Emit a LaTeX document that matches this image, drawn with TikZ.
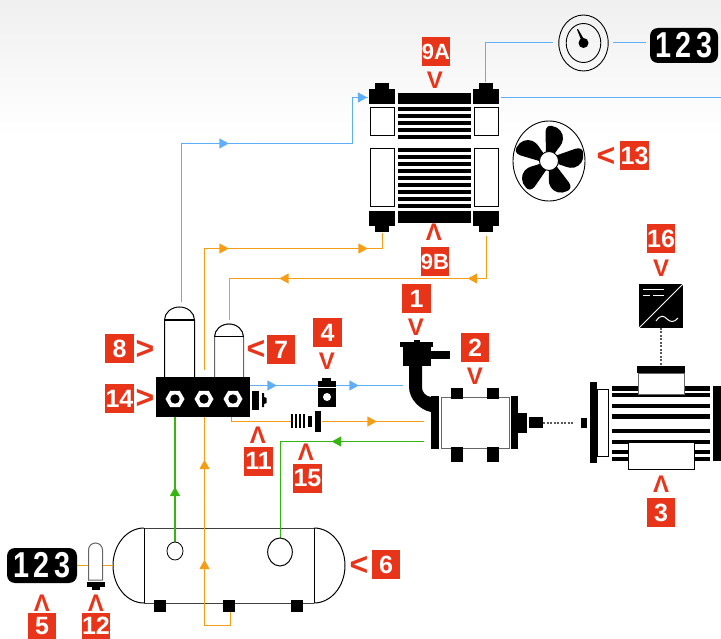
\documentclass[tikz,border=0pt]{standalone}
\usepackage{fontspec}
\setmainfont{Liberation Sans}
\usetikzlibrary{shapes.geometric}
\definecolor{tagred}{HTML}{E8351A}
\definecolor{lblue}{HTML}{5FAEF8}
\definecolor{lorange}{HTML}{F59D14}
\definecolor{lgreen}{HTML}{35B510}
\newcommand{\tri}[4]{\fill[#4,shift={(#1,#2)},rotate=#3] (-4.7,-5.2) -- (4.7,0) -- (-4.7,5.2) -- cycle;}
\newcommand{\digits}{\scalebox{0.8}[1]{1\kern6pt 2\kern6pt 3}}
\tikzset{
  tag/.style={fill=tagred,text=white,font=\bfseries\fontsize{25}{25}\selectfont,minimum width=28.5pt,minimum height=29pt,inner sep=0pt,anchor=center},
  tagwide/.style={tag,font=\bfseries\fontsize{22}{22}\selectfont},
  tagcut/.style={tag,minimum height=26pt},
  chev/.style={text=tagred,font=\bfseries\fontsize{24}{24}\selectfont,inner sep=0pt,anchor=center},
  chevside/.style={chev,font=\bfseries\fontsize{32}{32}\selectfont},
  display/.style={fill=black,text=white,rounded corners=8pt,minimum height=35pt,inner sep=0pt,font=\bfseries\fontsize{36}{36}\selectfont,anchor=center},
  bluel/.style={draw=lblue,line width=1.7pt},
  orangel/.style={draw=lorange,line width=1.7pt},
  greenl/.style={draw=lgreen,line width=1.7pt},
  hollow/.style={draw=black,fill=white,line width=1pt},
  grayhollow/.style={draw=black!60,fill=white,line width=1pt},
  dotl/.style={draw=black!65,line width=1.2pt,dash pattern=on 2pt off 1.5pt},
}
\begin{document}
\begin{tikzpicture}[x=1pt,y=-1pt]
\useasboundingbox (0,0) rectangle (721,639);
\shade[top color=black!6,bottom color=white,draw=none] (0,0) rectangle (721,135);

% ---------- tank (behind its connectors)
\draw[line width=1pt] (144,528) arc[start angle=270,end angle=90,x radius=31,y radius=37.5];
\draw[line width=1pt] (314,528) arc[start angle=-90,end angle=90,x radius=31,y radius=37.5];
\draw[line width=1pt,draw=black!75] (144,528) -- (314,528) (144,603) -- (314,603);
\draw[line width=1pt] (144,528) -- (144,603) (314,528) -- (314,603);

% ---------- end points of connectors
\coordinate (radTLw) at (368,97.5);
\coordinate (radTRn) at (485.5,82);
\coordinate (radTRe) at (501,97.5);
\coordinate (radBLs) at (382.5,233);
\coordinate (radBRs) at (486.5,236);
\coordinate (rightEdge) at (721,97.5);
\coordinate (gaugeW) at (553,42.5);
\coordinate (gaugeE) at (613,42.5);
\coordinate (dispTopW) at (646,42.5);
\coordinate (tube8top) at (181.5,302);
\coordinate (tube7top) at (229.5,320);
\coordinate (manifoldTop) at (204.5,370);
\coordinate (manE) at (250,385.5);
\coordinate (pumpBlue) at (403,385.5);
\coordinate (nut1) at (175,408);
\coordinate (nut2) at (204.5,408);
\coordinate (nut3) at (231.5,408);
\coordinate (valveW) at (291,421.5);
\coordinate (valveE) at (322,421.5);
\coordinate (pumpOrange) at (424,421.5);
\coordinate (pumpGreen) at (424,441.5);
\coordinate (tankSmall) at (175,542);
\coordinate (tankBig) at (280.5,538);
\coordinate (tankPad) at (230.5,612);
\coordinate (disp5E) at (77,565.5);
\coordinate (g12W) at (88,565.5);
\coordinate (g12E) at (103,565.5);
\coordinate (tankW) at (113,565.5);

% ---------- connectors
\draw[bluel] (radTRn) -- (485.5,42.5) -- (gaugeW);
\draw[bluel] (gaugeE) -- (dispTopW);
\draw[bluel] (radTRe) -- (rightEdge);
\draw[bluel] (tube8top) -- (181.5,143.5) -- (352.5,143.5) -- (352.5,97.5) -- (radTLw);
\draw[bluel] (manE) -- (pumpBlue);
\draw[orangel] (radBLs) -- (382.5,248.5) -- (204.5,248.5) -- (manifoldTop);
\draw[orangel] (radBRs) -- (486.5,278.5) -- (229.5,278.5) -- (tube7top);
\draw[orangel] (nut3) -- (231.5,421.5) -- (valveW);
\draw[orangel] (valveE) -- (pumpOrange);
\draw[orangel] (nut2) -- (204.5,625.5) -- (230.5,625.5) -- (tankPad);
\draw[greenl] (nut1) -- (tankSmall);
\draw[greenl] (tankBig) -- (280.5,441.5) -- (pumpGreen);
\draw[orangel] (disp5E) -- (g12W);
\draw[orangel] (g12E) -- (tankW);

\tri{224}{143.5}{0}{lblue}
\tri{362.5}{97.5}{0}{lblue}
\tri{224}{248.5}{0}{lorange}
\tri{363}{248.5}{0}{lorange}
\tri{472.5}{278.5}{180}{lorange}
\tri{284}{278.5}{180}{lorange}
\tri{272}{385.5}{0}{lblue}
\tri{354}{385.5}{0}{lblue}
\tri{372}{421.5}{0}{lorange}
\tri{336.5}{441.5}{180}{lgreen}
\tri{175}{491.5}{90}{lgreen}
\tri{204.5}{464.5}{90}{lorange}
\tri{204.5}{564.5}{90}{lorange}

% ---------- radiator
\fill (369,89) rectangle (395,104);
\fill (375,83) rectangle (389,89);
\fill (473,89) rectangle (499,104);
\fill (479,83) rectangle (493,89);
\fill (398,93) rectangle (471,104);
\draw[hollow] (370.5,108) rectangle (394.5,135.5);
\draw[hollow] (474.5,108) rectangle (498.5,135.5);
\foreach \y in {109,116,123,130,137}{\fill (398,\y-2.2) rectangle (471,\y+2.2);}
\draw[hollow] (370.5,149) rectangle (394.5,207);
\draw[hollow] (474.5,149) rectangle (498.5,207);
\foreach \y in {150,157,164,171,178,185,192,199,206}{\fill (398,\y-2.2) rectangle (471,\y+2.2);}
\fill (369,211) rectangle (395,226);
\fill (375,226) rectangle (389,232);
\fill (473,211) rectangle (499,226);
\fill (479,226) rectangle (493,232);
\fill (398,211) rectangle (471,223);

% ---------- fan
\draw[line width=0.9pt,fill=white] (549,161) ellipse [x radius=36,y radius=40];
\foreach \a in {0,72,144,216,288}{
  \fill[shift={(549,161)},rotate=\a] (-3,-9) -- (-3.5,-29) .. controls (-3.5,-34) and (0,-36) .. (3,-35) .. controls (10,-34) and (14.5,-28) .. (14,-22) .. controls (13.5,-16) and (9,-13) .. (6,-8) -- cycle;
}
\draw[line width=0.9pt,fill=white] (549,161) circle [radius=9.5];

% ---------- gauge
\draw[line width=0.9pt] (583.5,43) ellipse [x radius=24.7,y radius=28];
\draw[line width=0.9pt] (583.5,43) ellipse [x radius=17.3,y radius=19.5];
\fill (583.5,43) circle [radius=5];
\fill (581.5,41) -- (577,29.5) -- (578,29) -- (585,41) -- cycle;

% ---------- displays
\node[display,minimum width=68pt] (dispTop) at (684,45.5) {\digits};
\node[display,minimum width=70pt] (dispBot) at (42,565.5) {\digits};

% ---------- tubes and manifold
\draw[hollow] (164.5,377) -- (164.5,320) arc[start angle=180,end angle=360,x radius=15,y radius=13] -- (194.5,377);
\draw[line width=1.3pt] (164.5,320) -- (194.5,320);
\draw[grayhollow] (214.5,377) -- (214.5,337) arc[start angle=180,end angle=360,x radius=14.5,y radius=13] -- (243.5,377);
\draw[black,line width=1pt] (214.5,337) -- (243.5,337);
\draw[black,line width=0.8pt] (214.5,337) arc[start angle=180,end angle=360,x radius=14.5,y radius=13];
\fill (156,377) rectangle (250,417);
\foreach \x/\n in {175/n1,204/n2,233/n3}{
  \node[regular polygon,regular polygon sides=6,fill=white,minimum size=19pt,inner sep=0pt] (\n) at (\x,399) {};
  \fill (\x,399) circle [radius=4.7];
}
\fill (252,391) rectangle (259,410);
\fill (262,393) -- (264,393) -- (264,397) -- (266.5,398) -- (266.5,403) -- (264,404) -- (264,407) -- (262,407) -- cycle;

% ---------- sensor 4
\fill (322,378) rectangle (331,381.5);
\fill (318,381) rectangle (336,407);
\draw[white,line width=0.8pt] (318,387) -- (336,387);
\fill[white] (327,397) circle [radius=4];

% ---------- valve 15
\foreach \x in {292,296,300,304}{\fill (\x-1.3,414) rectangle (\x+1.3,428);}
\fill (308,416) rectangle (312,427);
\fill (315,411) rectangle (321,432);

% ---------- pump
\fill (431,396) rectangle (439,449);
\draw[grayhollow] (441,397) rectangle (509,448);
\foreach \x in {451,487}{
  \fill (\x,388) rectangle (\x+12,399);
  \fill (\x,447) rectangle (\x+12,462);
}
\fill (511,396) rectangle (518,449);
\fill (518,413) rectangle (527,433);
\fill (529,417) rectangle (543,428);
\fill (409,366) -- (409,387) .. controls (409,399) and (420,410) .. (431,412) -- (431,397) .. controls (425,396) and (422,392) .. (422,387) -- (422,366) -- cycle;
\fill (400,342) rectangle (433,347);
\fill (414,340) rectangle (420,342);
\fill (403,347) rectangle (431,366);
\fill (431,351) rectangle (450,359);
\draw[dotl] (543,423) -- (573,423);

% ---------- motor
\fill (590,382) rectangle (597,463);
\draw[hollow] (597.5,389.5) rectangle (608.5,456);
\fill (581,418) rectangle (587,428);
\foreach \a/\b in {386/391,393/397,404/408,414/419,429/433,440/444,450/454,457/461}{\fill (612,\a) rectangle (710,\b);}
\fill (713,386) rectangle (721,461);
\draw[grayhollow] (638,374) rectangle (684,394);
\fill (637,366) rectangle (685,373);
\draw[hollow] (628,442) rectangle (694,469);

% ---------- inverter
\fill (639,284) rectangle (683,328);
\draw[white,line width=1pt] (683,284) -- (639,328);
\draw[white,line width=1pt] (643,290) -- (664,290);
\draw[white,line width=1pt] (643,296) -- (650,296) (653,296) -- (664,296);
\draw[white,line width=1pt] (656,321) .. controls (661,314) and (664,316) .. (667,319) .. controls (670,322) and (674,323) .. (678,318);
\draw[dotl] (661,328) -- (661,366);

% ---------- tank ports and pads
\draw[line width=0.8pt,fill=white] (175,551) ellipse [x radius=8,y radius=9];
\draw[line width=1pt,fill=white] (280,552) ellipse [x radius=12.3,y radius=14];
\foreach \x in {154,223,291}{\fill (\x,600) rectangle (\x+12,612);}

% ---------- gauge 12
\draw[grayhollow] (88.5,580) -- (88.5,550) arc[start angle=180,end angle=360,x radius=7,y radius=7] -- (102.5,580) -- cycle;
\fill (87,582) rectangle (105,587);
\fill (92,587) rectangle (100,590);

% ---------- tags
\node[tagwide] (t9A) at (436,51.5) {9A};
\node[chev] (c9A) at (435,80) {V};
\node[tagwide] (t9B) at (435,261.5) {9B};
\node[chev] (c9B) at (434,232) {Λ};
\node[tag] (t13) at (634.5,156) {13};
\node[chevside] (c13) at (606,157) {<};
\node[tag] (t16) at (661,238.5) {16};
\node[chev] (c16) at (661,268) {V};
\node[tag] (t8) at (119.5,349) {8};
\node[chevside] (c8) at (145,350) {>};
\node[tag] (t7) at (281,349.5) {7};
\node[chevside] (c7) at (256,350) {<};
\node[tag] (t14) at (119.5,398.5) {14};
\node[chevside] (c14) at (145,399) {>};
\node[tag] (t4) at (327.5,332.5) {4};
\node[chev] (c4) at (327,361) {V};
\node[tag] (t11) at (258.5,461) {11};
\node[chev] (c11) at (258,435) {Λ};
\node[tag] (t15) at (307.5,478.5) {15};
\node[chev] (c15) at (306,452) {Λ};
\node[tag] (t1) at (416.5,299) {1};
\node[chev] (c1) at (416,327) {V};
\node[tag] (t2) at (475,347.5) {2};
\node[chev] (c2) at (475,376) {V};
\node[tag] (t3) at (661,512.5) {3};
\node[chev] (c3) at (661,484) {Λ};
\node[tagcut] (t5) at (42,626) {5};
\node[chev] (c5) at (42,603) {Λ};
\node[tagcut] (t12) at (96,626) {12};
\node[chev] (c12) at (96,603) {Λ};
\node[tag] (t6) at (386,564.5) {6};
\node[chevside] (c6) at (359,566) {<};
\end{tikzpicture}
\end{document}
